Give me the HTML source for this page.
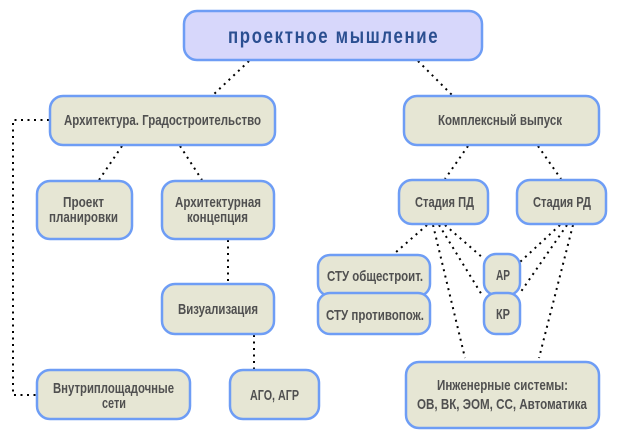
<!DOCTYPE html>
<html><head><meta charset="utf-8">
<style>
html,body{margin:0;padding:0;background:#fff;}
svg{display:block;}
text{font-family:"Liberation Sans",sans-serif;font-weight:bold;}
</style></head>
<body>
<svg width="618" height="440" viewBox="0 0 618 440" xmlns="http://www.w3.org/2000/svg">
<g fill="none" stroke="#000" stroke-width="2" stroke-dasharray="2 4.5">
  <line x1="249" y1="61" x2="213" y2="95"/>
  <line x1="418" y1="61" x2="452" y2="95"/>
  <polyline points="49,120 13,120 13,395 36,395"/>
  <line x1="122" y1="146" x2="99" y2="180"/>
  <line x1="180" y1="146" x2="202" y2="180"/>
  <line x1="228" y1="240" x2="228" y2="282"/>
  <line x1="254" y1="335" x2="254" y2="369"/>
  <line x1="468" y1="146" x2="445" y2="179"/>
  <line x1="538" y1="146" x2="561" y2="179"/>
  <line x1="427" y1="225" x2="395" y2="253"/>
  <line x1="433" y1="225" x2="465" y2="358"/>
  <line x1="439" y1="225" x2="482" y2="295"/>
  <line x1="445" y1="225" x2="483" y2="258"/>
  <line x1="560" y1="225" x2="520" y2="262"/>
  <line x1="567" y1="225" x2="520" y2="293"/>
  <line x1="573" y1="225" x2="539" y2="358"/>
</g>
<g stroke="#6e9df5" stroke-width="2.5">
  <rect x="184" y="11" width="298" height="49" rx="13" fill="#d7d7fb"/>
  <g fill="#e6e6d4">
    <rect x="50" y="96" width="225" height="49" rx="13"/>
    <rect x="404" y="96" width="195" height="49" rx="13"/>
    <rect x="37" y="181" width="95" height="58" rx="13"/>
    <rect x="162" y="181" width="112" height="58" rx="13"/>
    <rect x="162" y="284" width="112" height="50" rx="13"/>
    <rect x="37" y="370" width="153" height="49" rx="13"/>
    <rect x="230" y="370" width="89" height="49" rx="13"/>
    <rect x="399" y="180" width="89" height="44" rx="13"/>
    <rect x="517" y="180" width="89" height="44" rx="13"/>
    <rect x="318" y="255" width="112" height="41" rx="12"/>
    <rect x="318" y="293" width="112" height="41" rx="12"/>
    <rect x="484" y="254" width="36" height="41" rx="12"/>
    <rect x="484" y="293" width="36" height="41" rx="12"/>
    <rect x="406" y="362" width="193" height="66" rx="13"/>
  </g>
</g>
<text transform="translate(228,43) scale(0.8,1)" font-size="21" fill="#2b4f91" textLength="262" lengthAdjust="spacing">проектное мышление</text>
<g fill="#505050" font-size="15">
  <text x="64" y="125" textLength="197" lengthAdjust="spacingAndGlyphs">Архитектура. Градостроительство</text>
  <text x="438" y="125" textLength="124" lengthAdjust="spacingAndGlyphs">Комплексный выпуск</text>
  <text x="63" y="207" textLength="41" lengthAdjust="spacingAndGlyphs">Проект</text>
  <text x="49" y="222" textLength="69" lengthAdjust="spacingAndGlyphs">планировки</text>
  <text x="175" y="207" textLength="86" lengthAdjust="spacingAndGlyphs">Архитектурная</text>
  <text x="187" y="222" textLength="61" lengthAdjust="spacingAndGlyphs">концепция</text>
  <text x="178" y="314" textLength="80" lengthAdjust="spacingAndGlyphs">Визуализация</text>
  <text x="53" y="393" textLength="121" lengthAdjust="spacingAndGlyphs">Внутриплощадочные</text>
  <text x="102" y="408" textLength="24" lengthAdjust="spacingAndGlyphs">сети</text>
  <text x="250" y="400" textLength="49" lengthAdjust="spacingAndGlyphs">АГО, АГР</text>
  <text x="415" y="207" textLength="59" lengthAdjust="spacingAndGlyphs">Стадия ПД</text>
  <text x="533" y="207" textLength="58" lengthAdjust="spacingAndGlyphs">Стадия РД</text>
  <text x="327" y="281" textLength="96" lengthAdjust="spacingAndGlyphs">СТУ общестроит.</text>
  <text x="326" y="320" textLength="98" lengthAdjust="spacingAndGlyphs">СТУ противопож.</text>
  <text x="496" y="280" textLength="14" lengthAdjust="spacingAndGlyphs">АР</text>
  <text x="496" y="319" textLength="14" lengthAdjust="spacingAndGlyphs">КР</text>
  <text x="437" y="390" textLength="131" lengthAdjust="spacingAndGlyphs">Инженерные системы:</text>
  <text x="417" y="409" textLength="170" lengthAdjust="spacingAndGlyphs">ОВ, ВК, ЭОМ, СС, Автоматика</text>
</g>
</svg>
</body></html>
